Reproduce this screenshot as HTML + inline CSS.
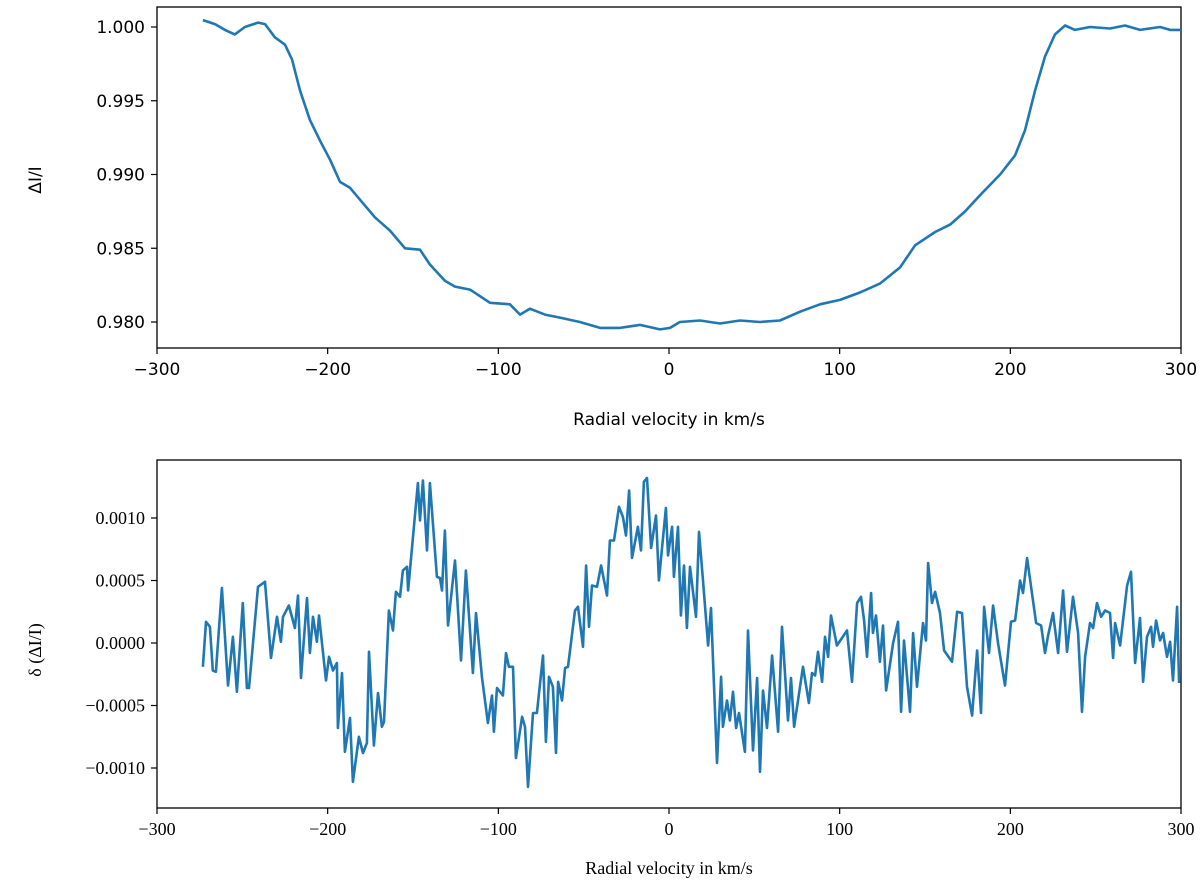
<!DOCTYPE html>
<html><head><meta charset="utf-8"><style>
body{margin:0;background:#fff}
svg{display:block}
.t1{font-family:"DejaVu Sans","Liberation Sans",sans-serif;font-size:17px;fill:#000}
.t2{font-family:"Liberation Serif",serif;font-size:18px;fill:#000}
</style></head><body>
<svg id="chart" width="1200" height="888" viewBox="0 0 1200 888"></svg>
<script>
// ---- top panel data ----
const topVel=[-273.1,-266,-260.2,-254.4,-248.5,-240.8,-236.7,-230.9,-225,-220.9,-216.2,-210.4,-204.5,-198.6,-192.8,-186.9,-181.1,-172.3,-163.5,-154.7,-145.9,-140.1,-131.3,-125.4,-116.6,-104.9,-93.2,-87.3,-81.5,-72.7,-63.9,-52.2,-40.4,-28.7,-17,-5.3,0.6,6.4,18.2,29.9,41.6,53.3,65,76.8,88.5,100.2,111.9,123.6,135.4,144.2,155.9,164.7,173.5,182.3,194,202.8,208.6,214.5,220.3,226.2,232.1,237.9,246.7,258.4,267.2,276,287.7,293.6,300];
const topFlux=[1.00047,1.0002,0.9998,0.9995,1.0,1.0003,1.0002,0.9993,0.9988,0.9978,0.9957,0.9937,0.9923,0.991,0.9895,0.9891,0.9883,0.9871,0.9862,0.985,0.9849,0.9839,0.9828,0.9824,0.9822,0.9813,0.9812,0.9805,0.9809,0.9805,0.9803,0.98,0.9796,0.9796,0.9798,0.9795,0.9796,0.98,0.9801,0.9799,0.9801,0.98,0.9801,0.9807,0.9812,0.9815,0.982,0.9826,0.9837,0.9852,0.9861,0.9866,0.9875,0.9886,0.99,0.9913,0.993,0.9957,0.998,0.9995,1.0001,0.9998,1.0,0.9999,1.0001,0.9998,1.0,0.9998,0.9998];
const topXTicks=[-300,-200,-100,0,100,200,300];
const topYTicks=[0.980,0.985,0.990,0.995,1.000];
// ---- bottom panel data (residual, units of 1e-4) ----
const botVel=[-273.1,-271.3,-269,-267.3,-265.5,-262,-258.4,-255.5,-253.2,-249.7,-247.3,-246.1,-240.8,-236.7,-233.2,-229.7,-227.4,-226.2,-222.7,-219.2,-217.4,-215.6,-212.1,-210.4,-208.6,-206.3,-205.1,-201,-199.2,-196.9,-194.6,-194,-191.6,-189.9,-186.9,-185.2,-181.7,-179.3,-177,-175.8,-172.9,-170.5,-168.2,-167,-164.1,-161.7,-160,-157.6,-155.9,-153.5,-152.9,-147.1,-145.9,-144.2,-141.8,-140.1,-136,-134.2,-133,-131.3,-129.5,-125.4,-121.9,-119,-114.9,-113.1,-109.6,-106.1,-103.7,-102.6,-100.8,-97.3,-95.5,-93.8,-91.4,-89.7,-86.1,-84.4,-82.6,-79.7,-77.4,-73.8,-72.1,-70.3,-68,-66.2,-65,-62.7,-60.9,-59.2,-55.1,-53.3,-50.4,-48.6,-46.9,-45.1,-42.2,-39.8,-36.3,-34.6,-32.2,-29.3,-27,-25.2,-23.4,-21.7,-18.2,-16.4,-14.7,-12.9,-10.5,-7.6,-5.9,-1.8,-0.6,1.8,2.9,5.3,7,8.8,10.5,12.3,15.8,17.6,19.9,22.9,24.6,28.1,30.5,31.6,34,35.7,37.5,39.3,41,44.5,46.3,49.2,51.6,53.3,55.1,57.4,60.4,63.9,66.2,69.7,71.5,73.3,78.5,82,83.8,85.6,87.3,89.7,91.4,93.2,94.9,98.4,104.3,107.2,110.2,112.5,114.3,116,118.4,119.5,121.3,123.6,125.4,127.2,131.3,134.2,136,137.7,141.2,143,145.3,148.8,150.6,151.8,154.1,155.9,158.8,161.2,165.8,168.8,171.7,174.6,177.6,180.5,182.8,184.6,187.5,189.9,192.8,196.9,200.4,202.8,205.7,207.4,209.8,215.1,218,220.3,222.1,225,228,230.9,233.2,236.7,239.7,242,243.8,246.7,248.5,250.8,253.2,255.5,258.4,260.2,261.4,264.3,268.4,270.7,273.1,276,277.8,280.1,282.5,283.6,285.4,287.7,289.5,291.8,293.6,295.3,297.7,298.9];
const botResid=[-1.9,1.7,1.3,-2.2,-2.3,4.4,-3.4,0.5,-3.9,3.2,-3.6,-3.6,4.5,4.9,-1.2,2.1,0.1,2.1,3,1.2,3.8,-2.8,3.6,-0.8,2.1,0.1,2.2,-3,-1.1,-2.2,-1.6,-6.8,-2.4,-8.7,-6,-11.1,-7.5,-8.8,-8,-0.7,-8.2,-4,-6.7,-6.3,2.6,1,4.1,3.7,5.8,6.1,4.2,12.8,9.8,13,7.4,12.8,5.3,5.2,4.2,9,1.4,6.6,-1.4,5.8,-2.4,2.4,-2.7,-6.4,-4.2,-7.1,-3.6,-4.2,-0.8,-1.9,-1.9,-9.2,-5.9,-6.7,-11.5,-5.6,-5.6,-1,-7.9,-2.7,-3.5,-8.8,-3.1,-4.6,-2,-1.9,2.6,2.9,-0.3,6.2,1.3,4.6,4.5,6.2,3.8,8.2,8.2,10.9,10.1,8.6,12.2,6.8,9.3,7.4,12.9,13.2,7.6,10.2,5,10.8,7,9.3,5.3,9.3,2.2,6.2,1.2,6.1,2.1,8.9,5,-0.2,2.8,-9.6,-2.7,-6.7,-4.6,-6.2,-3.9,-6.8,-5.6,-8.7,1,-8.6,-2.8,-10.3,-3.8,-6.8,-1,-7.1,1.3,-6.2,-2.8,-6.7,-1.9,-4.8,-2.4,-2.6,-0.7,-3.1,0.5,-1.1,2.2,-0.2,1,-3.1,3.2,3.7,1.8,-1.1,4,0.8,2.2,-1.5,1.4,-3.8,0,1.7,-5.5,0.2,-5.5,0.8,-3.5,1.6,0.2,6.4,3.2,4.1,2.4,-0.6,-1.5,2.5,2.4,-3.5,-5.8,-0.6,-5.6,2.9,-0.8,3,0,-3.4,1.7,1.8,5,4,6.8,1.6,1.4,-0.8,0.6,2.4,-0.8,4.2,-0.7,3.7,0.8,-5.5,-1.1,1.6,1.2,3.2,2.1,2.6,2.4,-1.2,1.6,-0.2,4.6,5.7,-1.6,2,-3.1,0.5,1.3,-0.3,1.8,0.2,0.8,-1.1,0.1,-3,2.9,-3.2];
const botXTicks=[-300,-200,-100,0,100,200,300];
const botYTicks=[-10,-5,0,5,10];
const botYLabels=["\u22120.0010","\u22120.0005","0.0000","0.0005","0.0010"];

const svg=document.getElementById('chart');
const NS='http://www.w3.org/2000/svg';
function mk(tag,attrs,parent){const e=document.createElementNS(NS,tag);for(const k in attrs)e.setAttribute(k,attrs[k]);(parent||svg).appendChild(e);return e;}
const L=157,R=1181;
const xs=v=>L+(v+300)/600*(R-L);
const ysTop=v=>27+(1.0-v)/0.005*73.75;
const ysBot=v=>643-v/5*62.5;

function panel(top,bot,cls,xt,yt,yl,ysf,xVals,yVals,xlab,ylab,ylabY,pname,titleOff,tickOff){
  const g=mk('g',{});
  
  
  const fr=mk('rect',{x:L,y:top,width:R-L,height:bot-top,fill:'none',stroke:'#000','stroke-width':1.3},g);
  
  
  xt.forEach(v=>{const x=xs(v);
    mk('line',{x1:x,x2:x,y1:bot,y2:bot+6,stroke:'#000','stroke-width':1.2},g);
    const t=mk('text',{x:x,y:bot+tickOff,'text-anchor':'middle',class:cls},g);t.textContent=(v<0?'\u2212'+(-v):v);
    
    });
  yt.forEach((v,i)=>{const y=ysf(v);
    mk('line',{x1:L-6,x2:L,y1:y,y2:y,stroke:'#000','stroke-width':1.2},g);
    const t=mk('text',{x:L-12,y:y+6,'text-anchor':'end',class:cls},g);t.textContent=yl[i];
    
    });
  let d='';xVals.forEach((v,i)=>{d+=(i?'L':'M')+xs(v).toFixed(1)+','+ysf(yVals[i]).toFixed(1);});
  const p=mk('path',{d:d,fill:'none',stroke:'#1f77b4','stroke-width':2.6,'stroke-linejoin':'round'},g);
  
  
  const xl=mk('text',{x:669,y:bot+titleOff,'text-anchor':'middle',class:cls,'font-size':'19'},g);xl.textContent=xlab;
  
  
  const yl2=mk('text',{x:0,y:0,'text-anchor':'middle',class:cls,transform:'translate(41,'+ylabY+') rotate(-90)','font-size':'19'},g);yl2.textContent=ylab;
  
  
}
panel(7,348,'t1',topXTicks,topYTicks,topYTicks.map(v=>v.toFixed(3)),ysTop,topVel,topFlux,'Radial velocity in km/s','\u0394I/I',180,'top-panel',77,27);
panel(460,808,'t2',botXTicks,botYTicks,botYLabels,ysBot,botVel,botResid,'Radial velocity in km/s','\u03b4 (\u0394I/I)',650,'bottom-panel',66,27);
</script>
</body></html>
